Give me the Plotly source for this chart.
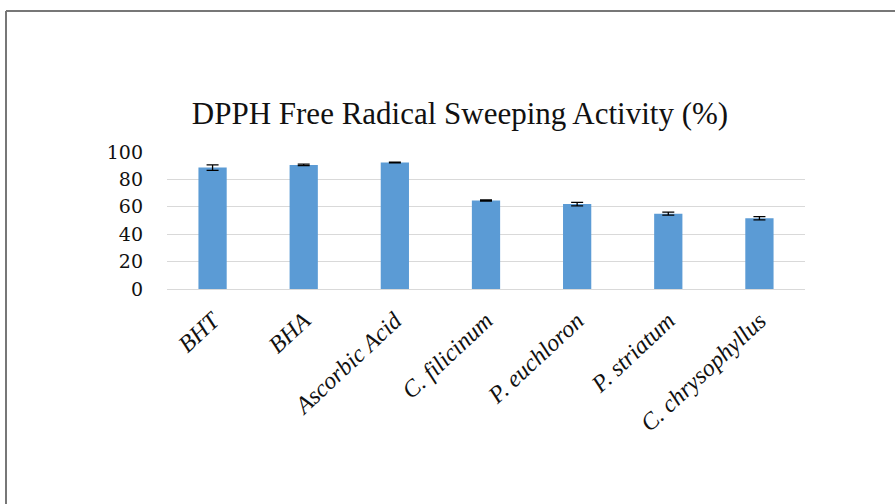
import plotly.graph_objects as go

categories = ["BHT", "BHA", "Ascorbic Acid", "C. filicinum", "P. euchloron", "P. striatum", "C. chrysophyllus"]
values = [88.6, 90.6, 92.3, 64.6, 62.0, 55.0, 51.6]
errors = [2.0, 0.6, 0.3, 0.5, 1.3, 1.1, 1.2]
y_ticks = [0, 20, 40, 60, 80, 100]

L, R, T, B = 167, 90, 152, 215
W, H = 895, 504
pw = W - L - R
ph = H - T - B

fig = go.Figure(go.Bar(
    x=categories, y=values,
    marker=dict(color="#5B9BD5", line=dict(width=0)),
    error_y=dict(type="data", array=errors, visible=True, color="#000000", thickness=1.3, width=6),
    width=0.31,
))

fig.update_layout(
    width=W, height=H,
    margin=dict(l=L, r=R, t=T, b=B),
    paper_bgcolor="white", plot_bgcolor="white",
    showlegend=False,
    title=dict(text="DPPH Free Radical Sweeping Activity (%)",
               font=dict(family="Liberation Serif", size=31, color="#111"),
               x=460 / W, xanchor="center", y=1 - 113 / H, yanchor="middle"),
    xaxis=dict(
        tickangle=-43,
        tickfont=dict(family="Liberation Serif", size=24, color="#111", style="italic"),
        showgrid=False, showline=False, ticks="", ticklabelstandoff=12,
    ),
    yaxis=dict(
        range=[0, 100], tickvals=y_ticks,
        tickfont=dict(family="DejaVu Serif", size=19, color="#111"),
        showgrid=True, gridcolor="#d9d9d9", gridwidth=1,
        zeroline=True, zerolinecolor="#d9d9d9", zerolinewidth=1,
        ticks="", ticklabelstandoff=23,
    ),
    shapes=[
        dict(type="line", xref="paper", yref="paper",
             x0=(6 - L) / pw, x1=(W + 10 - L) / pw,
             y0=(H - B - 11) / ph, y1=(H - B - 11) / ph,
             line=dict(color="#777777", width=2)),
        dict(type="line", xref="paper", yref="paper",
             x0=(6 - L) / pw, x1=(6 - L) / pw,
             y0=(H - B - 11) / ph, y1=(H - B - H - 10) / ph,
             line=dict(color="#777777", width=2)),
    ],
)

fig.write_html("out.html", config={"displayModeBar": False},
               post_script="document.body.style.margin='0';")
